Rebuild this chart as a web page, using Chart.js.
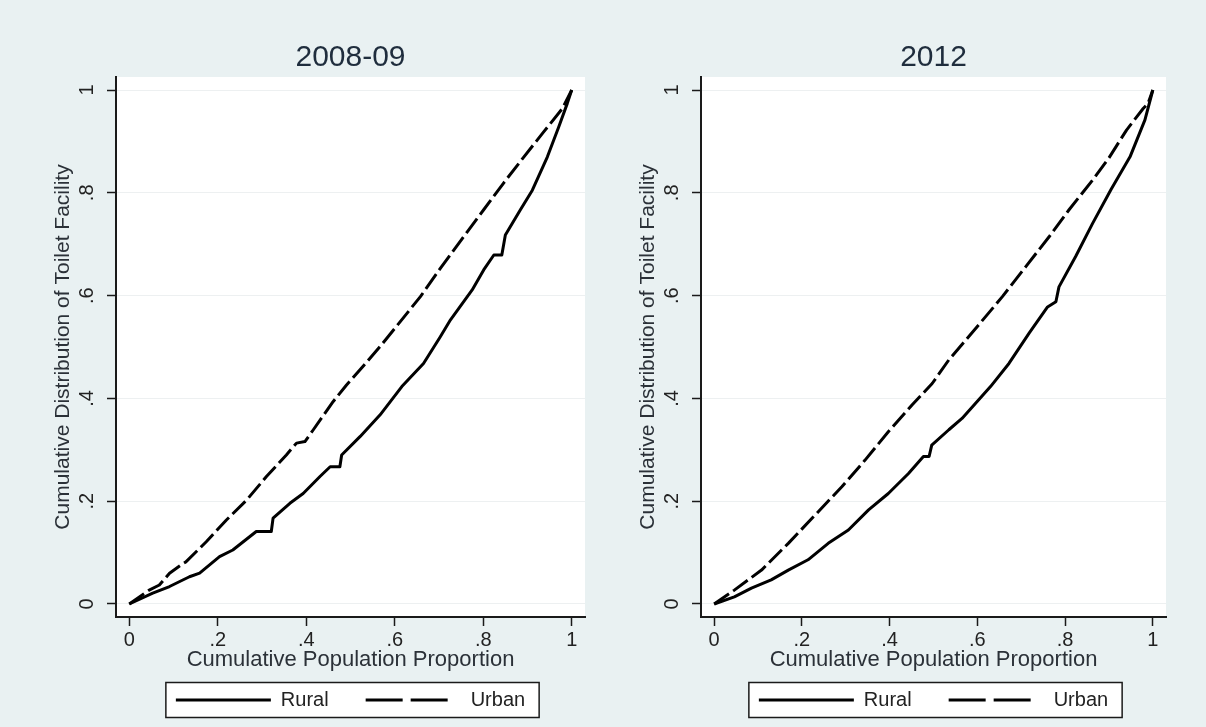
<!DOCTYPE html>
<html>
<head>
<meta charset="utf-8">
<script src="https://cdn.jsdelivr.net/npm/chart.js@4.4.1/dist/chart.umd.min.js"></script>
<style>
    html, body { margin: 0; padding: 0; background: #e9f1f2; }
    #wrap { position: relative; width: 1206px; height: 727px; overflow: hidden; }
    canvas { position: absolute; top: 0; }
    #c08 { left: 0; }
    #c12 { left: 585px; }
</style>
</head>
<body>
<div id="wrap">
    <canvas id="c08" width="600" height="727"></canvas>
    <canvas id="c12" width="621" height="727"></canvas>
</div>
<script>
// Concentration curves: cumulative toilet facility vs cumulative population
const panelTitles = ['2008-09', '2012'];
const seriesNames = ['Rural', 'Urban'];

const xTickValues = [0, 0.2, 0.4, 0.6, 0.8, 1];
const xTickLabels = ['0', '.2', '.4', '.6', '.8', '1'];
const yTickValues = [0, 0.2, 0.4, 0.6, 0.8, 1];
const yTickLabels = ['0', '.2', '.4', '.6', '.8', '1'];

// 2008-09
const rural0809X = [0, 0.053, 0.091, 0.136, 0.159, 0.204, 0.234, 0.287, 0.321, 0.325, 0.363, 0.393, 0.431, 0.454, 0.476, 0.480, 0.522, 0.567, 0.616, 0.665, 0.703, 0.726, 0.775, 0.801, 0.824, 0.842, 0.850, 0.884, 0.911, 0.945, 0.971, 0.990, 1];
const rural0809Y = [0, 0.021, 0.034, 0.053, 0.060, 0.092, 0.105, 0.141, 0.141, 0.167, 0.196, 0.215, 0.248, 0.267, 0.267, 0.290, 0.326, 0.368, 0.423, 0.468, 0.520, 0.553, 0.611, 0.650, 0.679, 0.679, 0.718, 0.767, 0.805, 0.870, 0.929, 0.974, 1];
const urban0809X = [0, 0.045, 0.068, 0.091, 0.122, 0.128, 0.174, 0.219, 0.265, 0.310, 0.355, 0.378, 0.397, 0.416, 0.461, 0.491, 0.529, 0.567, 0.658, 0.703, 0.756, 0.801, 0.846, 0.892, 0.937, 0.979, 1];
const urban0809Y = [0, 0.027, 0.037, 0.060, 0.079, 0.082, 0.121, 0.163, 0.202, 0.248, 0.290, 0.313, 0.316, 0.339, 0.394, 0.426, 0.463, 0.501, 0.598, 0.653, 0.715, 0.767, 0.819, 0.870, 0.919, 0.964, 1];

// 2012
const rural12X = [0, 0.046, 0.085, 0.130, 0.169, 0.214, 0.260, 0.306, 0.352, 0.397, 0.443, 0.477, 0.490, 0.496, 0.535, 0.565, 0.630, 0.672, 0.718, 0.760, 0.779, 0.786, 0.824, 0.863, 0.905, 0.948, 0.982, 1];
const rural12Y = [0, 0.014, 0.031, 0.047, 0.066, 0.086, 0.118, 0.144, 0.183, 0.215, 0.254, 0.287, 0.287, 0.309, 0.339, 0.361, 0.423, 0.468, 0.527, 0.578, 0.588, 0.617, 0.676, 0.741, 0.807, 0.870, 0.942, 1];
const urban12X = [0, 0.046, 0.108, 0.169, 0.230, 0.291, 0.344, 0.397, 0.451, 0.497, 0.535, 0.603, 0.657, 0.710, 0.764, 0.809, 0.863, 0.900, 0.940, 0.978, 0.989, 1];
const urban12Y = [0, 0.027, 0.066, 0.118, 0.173, 0.228, 0.280, 0.335, 0.387, 0.429, 0.475, 0.543, 0.598, 0.656, 0.715, 0.767, 0.825, 0.868, 0.922, 0.964, 0.974, 1];

const urbanDash = [18, 5];
const legendDash = [37, 8, 37, 20];
const ink = '#1a1a1a';

Chart.defaults.font.family = "'Liberation Sans', Arial, sans-serif";

function pts(xs, ys) {
    return xs.map(function (x, i) { return { x: x, y: ys[i] }; });
}

// white plot region + boxed legend (Stata look)
const panelBackground = {
    id: 'panelBackground',
    beforeDraw: function (chart) {
        const ctx = chart.ctx;
        const a = chart.chartArea;
        ctx.save();
        ctx.fillStyle = '#ffffff';
        ctx.fillRect(a.left, a.top, a.right - a.left, a.bottom - a.top);

        const boxes = chart.legend && chart.legend.legendHitBoxes;
        if (boxes && boxes.length) {
            const first = boxes[0], last = boxes[boxes.length - 1];
            const cy = first.top + first.height / 2;
            const x0 = first.left - 10, x1 = last.left + last.width + 14;
            ctx.fillRect(x0, cy - 17.5, x1 - x0, 35);
            ctx.strokeStyle = ink;
            ctx.lineWidth = 1.5;
            ctx.strokeRect(x0, cy - 17.5, x1 - x0, 35);
        }
        ctx.restore();
    }
};

function makePanel(canvasId, title, ruralX, ruralY, urbanX, urbanY, rightPad) {
    const canvas = document.getElementById(canvasId);
    return new Chart(canvas, {
        type: 'line',
        data: {
            datasets: [
                {
                    label: seriesNames[0],
                    data: pts(ruralX, ruralY),
                    borderColor: '#000',
                    backgroundColor: '#000',
                    borderWidth: 3,
                    borderJoinStyle: 'round',
                    pointRadius: 0,
                    tension: 0
                },
                {
                    label: seriesNames[1],
                    data: pts(urbanX, urbanY),
                    borderColor: '#000',
                    backgroundColor: '#000',
                    borderWidth: 3,
                    borderDash: urbanDash,
                    borderJoinStyle: 'round',
                    pointRadius: 0,
                    tension: 0
                }
            ]
        },
        options: {
            responsive: false,
            devicePixelRatio: 1,
            animation: false,
            events: [],
            layout: { padding: { left: 0, right: rightPad, top: 0, bottom: 7 } },
            plugins: {
                tooltip: { enabled: false },
                title: {
                    display: true,
                    text: title,
                    fullSize: false,
                    color: '#1f2d3d',
                    font: { size: 30, weight: 'normal' },
                    padding: { top: 40, bottom: 1 }
                },
                legend: {
                    position: 'bottom',
                    fullSize: false,
                    labels: {
                        usePointStyle: true,
                        pointStyle: 'line',
                        pointStyleWidth: 95,
                        padding: 37,
                        color: '#222',
                        font: { size: 20 },
                        generateLabels: function (chart) {
                            const items = Chart.defaults.plugins.legend.labels.generateLabels(chart);
                            items.forEach(function (it) {
                                const ds = chart.data.datasets[it.datasetIndex];
                                it.pointStyle = 'line';
                                it.lineWidth = ds.borderWidth;
                                it.strokeStyle = ds.borderColor;
                                it.lineDash = ds.borderDash ? legendDash : [];
                            });
                            return items;
                        }
                    }
                }
            },
            scales: {
                x: {
                    type: 'linear',
                    min: -0.03,
                    max: 1.03,
                    afterBuildTicks: function (s) { s.ticks = xTickValues.map(function (v) { return { value: v }; }); },
                    afterFit: function (s) { s.height = 36; },
                    grid: { drawOnChartArea: false, drawTicks: true, tickLength: 9, color: ink, tickWidth: 1.5 },
                    border: { display: true, color: ink, width: 2 },
                    ticks: {
                        autoSkip: false, minRotation: 0, maxRotation: 0, padding: 2,
                        color: '#222', font: { size: 20 },
                        callback: function (v, i) { return xTickLabels[i]; }
                    },
                    title: {
                        display: true,
                        text: 'Cumulative Population Proportion',
                        color: '#2b3138',
                        font: { size: 22 },
                        padding: { top: 0, bottom: -20.2 }
                    }
                },
                y: {
                    type: 'linear',
                    min: -0.0253,
                    max: 1.0253,
                    afterBuildTicks: function (s) { s.ticks = yTickValues.map(function (v) { return { value: v }; }); },
                    afterFit: function (s) { s.width = 116; },
                    grid: { color: '#edf0f1', lineWidth: 1, drawTicks: true, tickLength: 9, tickColor: ink, tickWidth: 1.5 },
                    border: { display: true, color: ink, width: 2 },
                    ticks: {
                        autoSkip: false, minRotation: 90, maxRotation: 90, crossAlign: 'center', padding: 11,
                        color: '#222', font: { size: 20 },
                        callback: function (v, i) { return yTickLabels[i]; }
                    },
                    title: {
                        display: true,
                        text: 'Cumulative Distribution of Toilet Facility',
                        color: '#2b3138',
                        font: { size: 21 },
                        padding: { top: 50.4, bottom: 0 }
                    }
                }
            }
        },
        plugins: [panelBackground]
    });
}

makePanel('c08', panelTitles[0], rural0809X, rural0809Y, urban0809X, urban0809Y, 15);
makePanel('c12', panelTitles[1], rural12X, rural12Y, urban12X, urban12Y, 40);
</script>
</body>
</html>
